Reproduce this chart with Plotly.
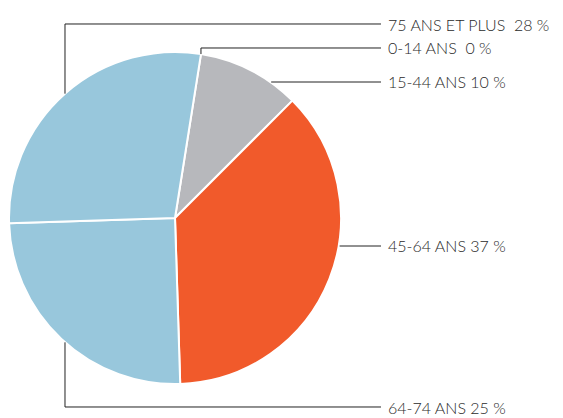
import math
import plotly.graph_objects as go

# ---- data ----
labels = ["0-14 ANS", "15-44 ANS", "45-64 ANS", "64-74 ANS", "75 ANS ET PLUS"]
values = [0, 10, 37, 25, 28]
label_texts = ["0-14 ANS\u00a0\u00a00 %", "15-44 ANS 10 %", "45-64 ANS 37 %",
               "64-74 ANS 25 %", "75 ANS ET PLUS\u00a0\u00a028 %"]
colors = ["#B7B8BC", "#B7B8BC", "#F15A2B", "#98C7DC", "#98C7DC"]

# ---- layout geometry (page pixels; page body has 8px margin) ----
OFF = 8
W, H = 563 - OFF, 418 - OFF
CX, CY, R = 175, 218, 166
ROT = 9.0
label_y = [48, 82, 246, 407, 24]
label_mode = ["start", "edge", "edge", "vert", "vert"]
vert_x = 65
text_x = 387
line_end_x = 381

def px(x):
    return (x - OFF) / W

def py(y):
    return 1 - (y - OFF) / H

fig = go.Figure(go.Pie(
    labels=labels, values=values, sort=False, direction="clockwise",
    rotation=ROT, textinfo="none", hoverinfo="label+percent",
    marker=dict(colors=colors, line=dict(color="white", width=2)),
    domain=dict(x=[px(CX - R), px(CX + R)], y=[py(CY + R), py(CY - R)]),
    showlegend=False,
))

total = sum(values)
shapes = []
annotations = []
cum = 0
for lab, v, txt, ly, mode in zip(labels, values, label_texts, label_y, label_mode):
    start = ROT + 360 * cum / total
    cum += v
    if mode == "start":
        a = math.radians(start)
        ax, ay = CX + R * math.sin(a), CY - R * math.cos(a)
        pts = [(ax, ay), (ax, ly), (line_end_x, ly)]
    elif mode == "edge":
        dy = ly - CY
        ax = CX + math.sqrt(max(R * R - dy * dy, 0))
        pts = [(ax + 1, ly), (line_end_x, ly)]
    else:
        dx = vert_x - CX
        dyc = math.sqrt(R * R - dx * dx)
        ay = CY - dyc if ly < CY else CY + dyc
        pts = [(vert_x, ay), (vert_x, ly), (line_end_x, ly)]
    path = "M " + " L ".join(f"{px(x):.5f},{py(y):.5f}" for x, y in pts)
    shapes.append(dict(type="path", xref="paper", yref="paper", path=path,
                       line=dict(color="#222222", width=1)))
    annotations.append(dict(x=px(text_x), y=py(ly), xref="paper", yref="paper",
                            text=txt, showarrow=False, xanchor="left", yanchor="middle",
                            borderpad=0,
                            font=dict(family="Lato", size=16, color="#2a2a2a", weight=300)))

fig.update_layout(
    width=W, height=H, margin=dict(l=0, r=0, t=0, b=0),
    paper_bgcolor="white", plot_bgcolor="white",
    shapes=shapes, annotations=annotations,
)

fig.write_html("out.html")
